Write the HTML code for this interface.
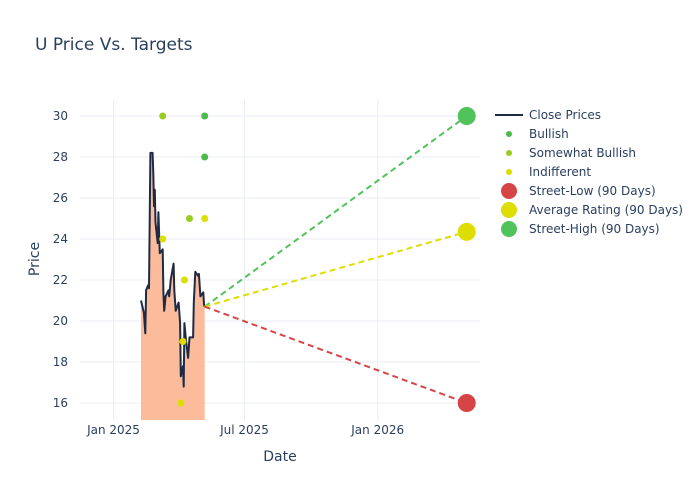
<!DOCTYPE html>
<html><head><meta charset="utf-8"><style>
body{margin:0;background:#fff;}
svg{display:block;font-family:"DejaVu Sans","Liberation Sans",sans-serif;}
</style></head><body>
<svg id="chart" width="700" height="500" viewBox="0 0 700 500">
<text x="35" y="50" font-size="17" fill="#2a3f5f">U Price Vs. Targets</text>
<g id="grid"></g><g id="marks"></g><g id="axes"></g>
<text x="280" y="461" font-size="14" fill="#2a3f5f" text-anchor="middle">Date</text>
<text x="39" y="259" font-size="14" fill="#2a3f5f" text-anchor="middle" transform="rotate(-90 39 259)">Price</text>
<g id="legend"></g>
</svg>
<script>
const closeDates=["2025-02-08","2025-02-12","2025-02-14","2025-02-15","2025-02-18","2025-02-19","2025-02-21","2025-02-24","2025-02-25","2025-02-26","2025-02-27","2025-02-28","2025-03-03","2025-03-04","2025-03-06","2025-03-10","2025-03-11","2025-03-12","2025-03-14","2025-03-18","2025-03-19","2025-03-21","2025-03-25","2025-03-26","2025-03-28","2025-04-01","2025-04-03","2025-04-04","2025-04-07","2025-04-08","2025-04-09","2025-04-11","2025-04-14","2025-04-16","2025-04-21","2025-04-22","2025-04-24","2025-04-28","2025-04-29","2025-05-01","2025-05-05","2025-05-06","2025-05-07"];
const closePrices=[21.0,20.4,19.4,21.5,21.75,21.6,28.2,28.2,27.2,25.6,26.4,24.8,23.8,25.3,23.3,23.5,21.4,20.5,21.2,21.5,21.2,22.0,22.8,21.5,20.5,20.9,19.9,17.3,17.8,16.8,19.9,19.1,18.2,19.2,19.2,20.9,22.4,22.2,22.3,21.2,21.4,20.8,20.7];
const bullishDates=["2025-05-07","2025-05-07"];
const bullishValues=[30,28];
const someBullDates=["2025-03-10","2025-04-16"];
const someBullValues=[30,25];
const indiffDates=["2025-03-10","2025-04-09","2025-04-07","2025-04-04","2025-05-07"];
const indiffValues=[24,22,19,16,25];
const targetDate="2026-05-04";
const targetLow=16, targetAvg=24.35, targetHigh=30;
const yTicks=[16,18,20,22,24,26,28,30];
const xTickDates=["2025-01-01","2025-07-01","2026-01-01"];
const xTickLabels=["Jan 2025","Jul 2025","Jan 2026"];

const NS="http://www.w3.org/2000/svg";
const L=80,R=480,T=100,B=420;
const d0=Date.parse("2025-01-01");
function day(s){return (Date.parse(s)-d0)/86400000;}
function X(s){return 113.5+day(s)*0.7238;}
function Y(v){return 403-(v-16)*20.5;}
function mk(tag,attrs,parent){const e=document.createElementNS(NS,tag);for(const k in attrs)e.setAttribute(k,attrs[k]);parent.appendChild(e);return e;}
const grid=document.getElementById('grid'),marks=document.getElementById('marks'),axes=document.getElementById('axes'),leg=document.getElementById('legend');
yTicks.forEach(v=>{
  const l=mk('line',{x1:L,x2:R,y1:Y(v),y2:Y(v),stroke:'#e9ecf4','stroke-width':1},grid);
  
  
  const t=mk('text',{x:L-12,y:Y(v)+4,'font-size':12,fill:'#2a3f5f','text-anchor':'end'},axes);
  t.textContent=v;
  
  
});
xTickDates.forEach((d,i)=>{
  const l=mk('line',{x1:X(d),x2:X(d),y1:T,y2:B,stroke:'#e9ecf4','stroke-width':1},grid);
  
  
  const t=mk('text',{x:X(d),y:B+14,'font-size':12,fill:'#2a3f5f','text-anchor':'middle'},axes);
  t.textContent=xTickLabels[i];
  
  
});
let pts=closeDates.map((d,i)=>X(d).toFixed(1)+','+Y(closePrices[i]).toFixed(1));
const area=mk('polygon',{points:X(closeDates[0])+','+B+' '+pts.join(' ')+' '+X(closeDates[closeDates.length-1])+','+B,fill:'#fcbc9c'},marks);


const line=mk('polyline',{points:pts.join(' '),fill:'none',stroke:'#1f2a44','stroke-width':2,'stroke-linejoin':'round'},marks);


const lastD=closeDates[closeDates.length-1],lastP=closePrices[closePrices.length-1];
[[targetHigh,'#50c35a','street-high'],[targetAvg,'#dddd00','average-rating'],[targetLow,'#d64545','street-low']].forEach(a=>{
  const l=mk('line',{x1:X(lastD),y1:Y(lastP),x2:X(targetDate),y2:Y(a[0]),stroke:a[1],'stroke-width':2,'stroke-dasharray':'6,4'},marks);
  
  
});
function dots(ds,vs,c,name){ds.forEach((d,i)=>{
  const e=mk('circle',{cx:X(d),cy:Y(vs[i]),r:3.5,fill:c},marks);
  
  
});}
dots(bullishDates,bullishValues,'#4cbb4c','bullish-point');
dots(someBullDates,someBullValues,'#99cc22','somewhat-bullish-point');
dots(indiffDates,indiffValues,'#dddd00','indifferent-point');
[[targetLow,'#d64545','street-low-marker'],[targetAvg,'#dddd00','average-rating-marker'],[targetHigh,'#50c35a','street-high-marker']].forEach(a=>{
  const e=mk('circle',{cx:X(targetDate),cy:Y(a[0]),r:9,fill:a[1]},marks);
  
  
});
const items=[['Close Prices','line','#1f2a44'],['Bullish','s','#4cbb4c'],['Somewhat Bullish','s','#99cc22'],['Indifferent','s','#dddd00'],['Street-Low (90 Days)','b','#d64545'],['Average Rating (90 Days)','b','#dddd00'],['Street-High (90 Days)','b','#50c35a']];
items.forEach((it,i)=>{
  const y=115+i*19;
  const g=mk('g',{},leg);
  
  
  if(it[1]=='line')mk('line',{x1:495,x2:523,y1:y,y2:y,stroke:it[2],'stroke-width':2},g);
  else mk('circle',{cx:509,cy:y,r:it[1]=='s'?3:8,fill:it[2]},g);
  const t=mk('text',{x:529,y:y+4,'font-size':12,fill:'#2a3f5f'},g);
  t.textContent=it[0];
});
</script>
</body></html>
